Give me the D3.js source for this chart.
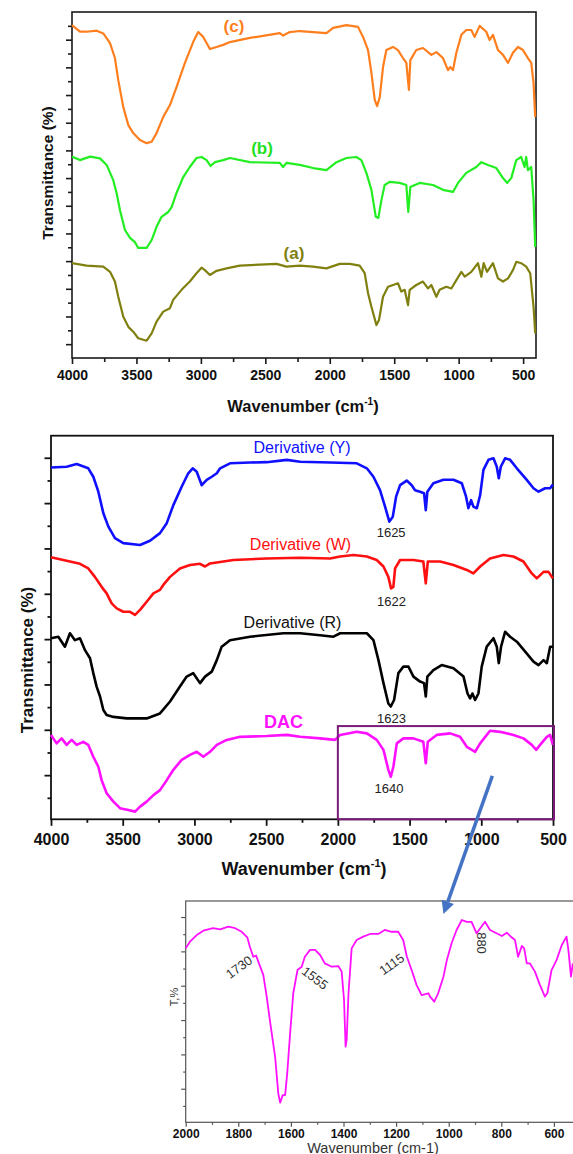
<!DOCTYPE html>
<html>
<head>
<meta charset="utf-8">
<script src="https://cdn.jsdelivr.net/npm/d3@7"></script>
<style>
  body { margin: 0; background: #fff; }
  svg { display: block; font-family: "Liberation Sans", Arial, sans-serif; }
</style>
</head>
<body>
<svg id="chart" width="573" height="1154"></svg>
<script>
// ---- data: [wavenumber (cm-1), transmittance (arb., stacked)] ----
const seriesC = [[4000,96.2],[3938,94.3],[3886,94.3],[3809,94.6],[3757,93.8],[3705,91.0],[3667,86.7],[3641,80.3],[3602,72.5],[3563,67.3],[3525,65.0],[3473,63.0],[3421,62.1],[3382,62.5],[3344,65.0],[3292,69.7],[3240,73.1],[3189,78.3],[3124,85.3],[3060,91.3],[3021,94.2],[2982,92.8],[2930,89.3],[2878,89.9],[2827,90.5],[2775,91.3],[2620,92.5],[2388,93.9],[2362,93.2],[2310,94.2],[2233,94.5],[2026,93.9],[1974,95.4],[1871,96.2],[1781,95.7],[1742,92.8],[1703,89.0],[1677,82.4],[1651,74.6],[1633,72.8],[1612,75.4],[1587,84.1],[1561,89.0],[1509,89.9],[1471,89.0],[1432,86.7],[1406,85.3],[1386,77.5],[1375,86.1],[1329,89.0],[1277,89.6],[1212,87.6],[1173,88.4],[1122,86.7],[1083,83.2],[1065,84.1],[1044,83.2],[1018,88.2],[979,93.4],[941,94.8],[902,94.8],[876,92.8],[837,96.0],[786,94.3],[760,91.9],[734,93.4],[695,89.0],[656,87.6],[617,85.3],[579,88.2],[540,89.9],[501,89.0],[463,86.7],[437,85.3],[419,79.5],[406,69.7]];

const seriesB = [[4000,58.2],[3938,57.2],[3860,58.2],[3783,57.7],[3731,55.8],[3680,51.4],[3654,47.7],[3628,42.8],[3589,37.0],[3550,34.7],[3512,33.5],[3486,31.8],[3421,31.8],[3382,34.1],[3344,37.9],[3305,40.8],[3253,42.2],[3227,43.6],[3189,47.7],[3137,52.3],[3086,55.2],[3034,57.8],[2995,58.1],[2956,57.2],[2925,55.5],[2891,56.6],[2827,57.2],[2775,57.8],[2620,56.6],[2388,56.4],[2362,55.2],[2336,56.4],[2233,55.8],[2130,54.9],[2026,54.3],[1948,56.6],[1871,57.8],[1794,58.1],[1755,57.2],[1716,53.5],[1677,48.6],[1643,40.8],[1623,40.5],[1599,45.7],[1574,50.0],[1535,50.9],[1458,50.6],[1406,50.0],[1391,42.2],[1375,49.4],[1303,50.6],[1199,50.0],[1122,48.6],[1044,48.0],[1005,50.6],[941,53.5],[863,55.2],[824,56.6],[773,55.8],[708,54.9],[656,52.0],[623,50.6],[592,52.0],[553,57.2],[515,58.1],[489,55.2],[476,58.1],[463,54.3],[437,55.2],[419,45.7],[406,32.1]];

const seriesA = [[4000,27.4],[3886,26.7],[3757,26.4],[3705,24.9],[3667,22.1],[3641,17.7],[3602,11.9],[3563,9.0],[3525,7.6],[3486,5.7],[3421,5.0],[3382,7.1],[3344,10.5],[3292,13.4],[3240,14.4],[3215,16.8],[3150,19.7],[3086,22.1],[3034,24.5],[2995,26.1],[2969,25.4],[2930,24.0],[2878,25.2],[2801,25.9],[2698,26.7],[2413,27.2],[2336,26.4],[2233,26.7],[2130,26.4],[2026,25.9],[1923,27.2],[1845,27.2],[1768,26.7],[1729,24.5],[1703,18.7],[1677,14.8],[1638,9.5],[1618,11.0],[1587,17.7],[1548,20.6],[1509,21.1],[1471,21.6],[1445,19.2],[1419,19.7],[1393,15.3],[1380,19.7],[1329,21.1],[1277,22.1],[1238,20.1],[1212,21.1],[1173,17.7],[1148,19.7],[1096,20.6],[1057,20.1],[1018,22.5],[979,24.9],[953,23.5],[902,24.9],[850,27.4],[824,23.5],[806,27.4],[780,24.9],[734,27.4],[695,23.0],[656,22.1],[617,23.0],[579,25.4],[553,27.8],[515,27.4],[476,26.4],[445,24.5],[419,14.8],[406,7.1]];

const seriesY = [[4000,91.7],[3891,91.9],[3821,92.6],[3740,91.5],[3705,89.3],[3670,85.4],[3635,79.8],[3600,76.3],[3554,73.3],[3496,72.0],[3379,71.5],[3310,72.6],[3240,74.6],[3193,77.2],[3147,81.9],[3089,86.7],[3043,90.2],[3012,91.5],[2984,90.6],[2949,87.1],[2914,88.5],[2879,89.3],[2844,90.2],[2821,91.5],[2752,92.8],[2612,93.0],[2496,93.1],[2356,93.7],[2263,93.2],[2054,93.0],[1868,92.8],[1798,91.5],[1752,89.3],[1706,85.8],[1671,81.5],[1641,77.6],[1617,78.9],[1594,84.1],[1566,87.1],[1520,88.3],[1485,87.1],[1462,85.8],[1427,85.4],[1399,85.0],[1387,80.6],[1376,85.4],[1334,87.6],[1264,88.5],[1194,88.5],[1136,87.6],[1106,84.1],[1090,81.1],[1071,83.2],[1055,81.5],[1031,81.1],[1008,84.5],[985,91.1],[950,93.7],[915,94.1],[892,91.9],[878,88.9],[864,91.9],[834,94.1],[799,93.7],[752,91.5],[683,88.5],[636,86.3],[601,85.4],[555,86.3],[520,86.3],[501,87.3]];

const seriesW = [[4000,68.3],[3891,67.4],[3798,66.6],[3740,65.4],[3694,63.2],[3647,60.6],[3612,58.9],[3577,56.3],[3542,55.0],[3496,54.1],[3449,54.1],[3414,53.3],[3379,54.6],[3333,56.7],[3286,58.9],[3240,59.8],[3217,61.1],[3170,63.2],[3101,65.4],[3031,66.3],[2961,66.6],[2926,65.9],[2891,66.7],[2728,67.6],[2496,68.0],[2263,68.2],[2054,68.0],[1984,68.5],[1891,68.9],[1798,68.5],[1729,67.6],[1682,65.9],[1648,63.2],[1629,60.2],[1613,60.6],[1601,65.4],[1566,67.6],[1473,67.6],[1404,67.2],[1387,61.5],[1373,67.2],[1287,67.2],[1194,66.3],[1101,65.0],[1055,64.1],[1008,65.9],[939,68.0],[846,68.9],[776,68.5],[706,67.2],[648,64.1],[613,62.8],[566,64.5],[531,64.5],[501,62.8]];

const seriesR = [[4000,47.2],[3949,47.6],[3903,45.0],[3868,48.5],[3833,46.7],[3798,47.2],[3763,44.1],[3728,42.0],[3705,38.1],[3682,34.6],[3658,32.0],[3635,28.5],[3612,27.2],[3565,26.7],[3472,26.3],[3333,26.3],[3240,27.6],[3170,30.7],[3101,34.6],[3054,37.2],[3008,38.1],[2961,35.5],[2926,37.2],[2879,38.5],[2844,41.5],[2810,45.0],[2752,46.7],[2612,47.6],[2380,48.5],[2263,48.5],[2124,48.0],[2031,47.6],[1984,48.5],[1798,48.5],[1752,46.7],[1717,41.5],[1682,35.5],[1648,30.2],[1631,29.4],[1608,31.1],[1578,38.1],[1543,39.8],[1508,39.8],[1473,37.2],[1427,35.9],[1399,35.5],[1387,32.0],[1376,37.2],[1334,38.9],[1276,40.2],[1194,39.4],[1124,37.2],[1096,32.8],[1078,31.5],[1062,32.8],[1043,31.1],[1020,32.8],[997,39.8],[962,45.0],[915,47.2],[892,45.0],[878,40.7],[862,45.0],[834,48.9],[799,47.6],[752,46.3],[694,43.7],[636,41.1],[601,40.2],[566,41.5],[543,40.7],[520,45.0],[501,45.0]];

const seriesDAC = [[4000,22.0],[3961,19.8],[3926,21.1],[3891,19.4],[3856,20.7],[3821,19.4],[3775,20.2],[3740,19.4],[3705,16.3],[3670,13.7],[3647,10.2],[3612,6.8],[3565,4.6],[3519,2.9],[3461,2.4],[3414,2.0],[3379,3.3],[3333,4.6],[3286,6.3],[3240,7.6],[3193,10.2],[3147,12.9],[3089,15.5],[3031,16.8],[2984,17.6],[2938,16.3],[2891,17.6],[2844,19.4],[2775,20.7],[2682,21.5],[2496,21.7],[2356,22.0],[2263,21.5],[2124,21.1],[2019,20.7],[1984,22.0],[1868,22.8],[1798,22.4],[1729,20.7],[1682,18.1],[1648,12.9],[1631,11.1],[1613,13.7],[1589,19.8],[1543,21.1],[1473,21.1],[1404,20.2],[1387,14.6],[1373,20.2],[1311,22.0],[1217,22.4],[1148,21.5],[1101,18.9],[1066,18.1],[1043,17.6],[1008,19.8],[939,23.1],[869,22.8],[776,22.0],[706,21.1],[648,19.4],[617,18.1],[590,19.4],[543,21.5],[520,22.0],[501,19.4]];

// enlarged DAC spectrum 2000-500 cm-1
const seriesZoom = [[2000,78.6],[1984,81.6],[1958,84.6],[1933,86.6],[1896,87.7],[1869,87.2],[1838,88.4],[1812,87.7],[1787,86.1],[1766,83.6],[1756,79.3],[1743,74.8],[1732,75.3],[1724,72.6],[1705,66.6],[1692,56.8],[1680,46.2],[1660,29.6],[1648,13.1],[1641,8.9],[1631,12.3],[1622,12.3],[1614,22.1],[1603,40.2],[1591,58.3],[1575,68.8],[1559,70.3],[1547,74.8],[1527,77.9],[1508,77.9],[1489,75.6],[1471,71.8],[1445,70.3],[1420,70.6],[1407,68.1],[1398,55.3],[1392,34.2],[1388,37.2],[1381,58.3],[1369,78.6],[1350,82.4],[1325,83.9],[1299,85.1],[1268,85.1],[1243,86.9],[1217,86.1],[1192,86.1],[1173,82.4],[1159,74.8],[1141,68.8],[1122,62.0],[1103,57.5],[1077,58.3],[1071,56.8],[1055,54.5],[1040,58.3],[1020,65.8],[1007,73.3],[989,80.9],[970,86.9],[950,91.4],[931,90.6],[913,90.6],[894,85.4],[880,87.7],[862,90.6],[843,86.9],[818,85.4],[798,84.2],[779,85.7],[761,83.6],[748,82.4],[736,74.8],[722,79.7],[713,78.6],[703,71.8],[691,71.8],[672,68.1],[653,62.0],[634,56.8],[625,58.3],[609,68.8],[590,73.3],[570,80.1],[552,83.9],[545,77.9],[535,65.8],[528,71.8]];

const topLabels = ["(c)", "(b)", "(a)"];
const midLabels = ["Derivative (Y)", "Derivative (W)", "Derivative (R)", "DAC"];
const peakLabels = ["1625", "1622", "1623", "1640"];
const zoomLabels = ["1730", "1555", "1115", "880"];

const xTicksWide = [4000, 3500, 3000, 2500, 2000, 1500, 1000, 500];
const xMinorWide = [3750, 3250, 2750, 2250, 1750, 1250, 750];
const xTicksZoom = [2000, 1800, 1600, 1400, 1200, 1000, 800, 600];
const xMinorZoom = [1900, 1700, 1500, 1300, 1100, 900, 700];

const svg = d3.select("#chart");

function drawPanel(p) {
  const x = d3.scaleLinear().domain(p.xDomain).range([p.left, p.right]);
  const y = d3.scaleLinear().domain([0, 100]).range([p.bottom, p.top]);
  const g = svg.append("g");

  // frame
  g.append("rect")
    .attr("x", p.left).attr("y", p.top)
    .attr("width", p.right - p.left).attr("height", p.bottom - p.top)
    .attr("fill", "none").attr("stroke", p.frame).attr("stroke-width", p.frameW);

  // x ticks (minor then major with labels)
  const xa = g.append("g").attr("transform", `translate(0,${p.bottom})`);
  xa.append("g").call(d3.axisBottom(x).tickValues(p.xMinor).tickSize(p.minorLen).tickFormat(""));
  xa.append("g").call(d3.axisBottom(x).tickValues(p.xMajor).tickSize(p.majorLen)
    .tickPadding(p.pad).tickFormat(d3.format("d")));
  xa.selectAll(".domain").remove();
  xa.selectAll("g").attr("font-family", null).attr("font-size", null);
  xa.selectAll("line").attr("stroke", p.frame).attr("stroke-width", p.frameW);
  xa.selectAll("text").attr("fill", "#111").attr("font-weight", "bold")
    .attr("font-size", p.tickFont);

  // y ticks, no labels
  const ya = g.append("g").attr("transform", `translate(${p.left},0)`);
  ya.append("g").call(d3.axisLeft(y).tickValues(p.yMinor).tickSize(p.minorLen).tickFormat(""));
  ya.append("g").call(d3.axisLeft(y).tickValues(p.yMajor).tickSize(p.majorLen).tickFormat(""));
  ya.selectAll(".domain").remove();
  ya.selectAll("line").attr("stroke", p.frame).attr("stroke-width", p.frameW);

  const line = d3.line().x(d => x(d[0])).y(d => y(d[1]));
  p.series.forEach(s => {
    g.append("path").datum(s.data)
      .attr("d", line)
      .attr("fill", "none")
      .attr("stroke", s.color)
      .attr("stroke-width", p.lineW)
      .attr("stroke-linejoin", "round");
  });
  return { x, y, g };
}

// ---------- top panel ----------
const topY = d3.range(24).map(k => 4 + 4 * k);
const panelTop = drawPanel({
  xDomain: [4000, 400], left: 72, right: 536, top: 12, bottom: 358,
  xMajor: xTicksWide, xMinor: xMinorWide,
  yMajor: topY.filter((d, k) => k % 2 === 0), yMinor: topY.filter((d, k) => k % 2 === 1),
  majorLen: 6, minorLen: 4, pad: 6, tickFont: 14,
  frame: "#1a1a1a", frameW: 1.6, lineW: 2.2,
  series: [
    { data: seriesC, color: "#ff7f1e" },
    { data: seriesB, color: "#22ee22" },
    { data: seriesA, color: "#808010" }
  ]
});
const topLabelPos = [[234, 32, "#ff7f1e"], [262, 154, "#22e022"], [294, 259, "#808010"]];
topLabels.forEach((t, i) => {
  svg.append("text").attr("x", topLabelPos[i][0]).attr("y", topLabelPos[i][1])
    .attr("text-anchor", "middle").attr("font-size", 17).attr("font-weight", "bold")
    .attr("fill", topLabelPos[i][2]).text(t);
});
svg.append("text").attr("transform", "translate(53,173) rotate(-90)")
  .attr("text-anchor", "middle").attr("font-size", 15.5).attr("font-weight", "bold")
  .attr("fill", "#111").text("Transmittance (%)");
const xt1 = svg.append("text").attr("x", 303).attr("y", 412).attr("text-anchor", "middle")
  .attr("font-size", 16.5).attr("font-weight", "bold").attr("fill", "#111");
xt1.append("tspan").text("Wavenumber (cm");
xt1.append("tspan").attr("dy", -7).attr("font-size", 10).text("-1");
xt1.append("tspan").attr("dy", 7).text(")");

// ---------- middle panel ----------
const midY = d3.range(16).map(k => 5.6 + 5.91 * k);
const panelMid = drawPanel({
  xDomain: [4000, 500], left: 51, right: 553, top: 435.7, bottom: 819.3,
  xMajor: xTicksWide, xMinor: xMinorWide,
  yMajor: midY.filter((d, k) => k % 2 === 1), yMinor: midY.filter((d, k) => k % 2 === 0),
  majorLen: 6.5, minorLen: 3.5, pad: 8, tickFont: 16,
  frame: "#111", frameW: 1.8, lineW: 2.6,
  series: [
    { data: seriesY, color: "#1010ff" },
    { data: seriesW, color: "#ff1010" },
    { data: seriesR, color: "#000000" },
    { data: seriesDAC, color: "#ff10ff" }
  ]
});
const midLabelPos = [[302, 453, "#1010ff", 16, "normal"], [300.5, 550, "#ff1010", 16, "normal"],
  [292.5, 628, "#111", 16, "normal"], [283.5, 728, "#ff10ff", 18, "bold"]];
midLabels.forEach((t, i) => {
  const q = midLabelPos[i];
  svg.append("text").attr("x", q[0]).attr("y", q[1]).attr("text-anchor", "middle")
    .attr("font-size", q[3]).attr("font-weight", q[4]).attr("fill", q[2]).text(t);
});
const peakBase = [537, 606, 723, 793];
peakLabels.forEach((t, i) => {
  svg.append("text").attr("x", panelMid.x(+t) - 0.5).attr("y", peakBase[i]).attr("text-anchor", "middle")
    .attr("font-size", 13).attr("fill", "#222").text(t);
});
// highlighted region
panelMid.g.append("rect")
  .attr("x", panelMid.x(2000)).attr("y", panelMid.y(24.3))
  .attr("width", panelMid.x(500) - panelMid.x(2000) + 1).attr("height", panelMid.y(0) - panelMid.y(24.3))
  .attr("fill", "none").attr("stroke", "#7a1a7a").attr("stroke-width", 2);
svg.append("text").attr("transform", "translate(33,660) rotate(-90)")
  .attr("text-anchor", "middle").attr("font-size", 17).attr("font-weight", "bold")
  .attr("fill", "#111").text("Transmittance (%)");
const xt2 = svg.append("text").attr("x", 304).attr("y", 875).attr("text-anchor", "middle")
  .attr("font-size", 18).attr("font-weight", "bold").attr("fill", "#111");
xt2.append("tspan").text("Wavenumber (cm");
xt2.append("tspan").attr("dy", -8).attr("font-size", 11).text("-1");
xt2.append("tspan").attr("dy", 8).text(")");

// ---------- enlarged panel ----------
const zY = d3.range(12).map(k => 7.4 + 7.76 * k);
const panelZoom = drawPanel({
  xDomain: [2000, 500], left: 185.7, right: 580.2, top: 901, bottom: 1122.3,
  xMajor: xTicksZoom, xMinor: xMinorZoom,
  yMajor: zY.filter((d, k) => k % 2 === 1), yMinor: zY.filter((d, k) => k % 2 === 0),
  majorLen: 4.5, minorLen: 2.5, pad: 2.5, tickFont: 12,
  frame: "#555", frameW: 1.2, lineW: 1.8,
  series: [{ data: seriesZoom, color: "#ff10ff" }]
});
const zoomLabelPos = [[239, 967, -36], [315, 978, 37], [391.7, 964, -35], [481.7, 943, 90]];
zoomLabels.forEach((t, i) => {
  const q = zoomLabelPos[i];
  svg.append("text").attr("transform", `translate(${q[0]},${q[1]}) rotate(${q[2]})`)
    .attr("text-anchor", "middle").attr("dy", "0.35em")
    .attr("font-size", 13).attr("fill", "#333").text(t);
});
svg.append("text").attr("transform", "translate(178,997) rotate(-90)")
  .attr("text-anchor", "middle").attr("font-size", 11).attr("fill", "#333").text("T,%");
svg.append("text").attr("x", 373).attr("y", 1152.5).attr("text-anchor", "middle")
  .attr("font-size", 14.5).attr("fill", "#333").text("Wavenumber (cm-1)");

// ---------- arrow linking the two panels ----------
const a0 = [panelMid.x(923), panelMid.y(11.3)];
const a1 = [panelZoom.x(1020), panelZoom.y(94.1)];
const ang = Math.atan2(a1[1] - a0[1], a1[0] - a0[0]);
const headL = 13, headW = 6.5;
const base = [a1[0] - headL * Math.cos(ang), a1[1] - headL * Math.sin(ang)];
svg.append("line").attr("x1", a0[0]).attr("y1", a0[1]).attr("x2", base[0]).attr("y2", base[1])
  .attr("stroke", "#4472c4").attr("stroke-width", 3.5);
svg.append("path")
  .attr("d", `M${a1[0]},${a1[1]}L${base[0] + headW * Math.sin(ang)},${base[1] - headW * Math.cos(ang)}` +
    `L${base[0] - headW * Math.sin(ang)},${base[1] + headW * Math.cos(ang)}Z`)
  .attr("fill", "#4472c4");
</script>
</body>
</html>
